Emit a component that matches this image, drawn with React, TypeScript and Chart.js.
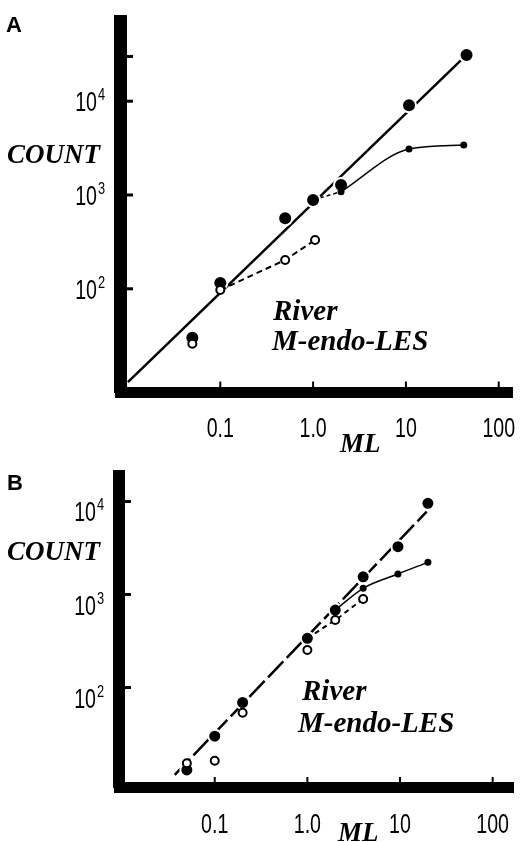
import React, { useEffect, useRef } from "react";
import { Chart, registerables } from "chart.js";

Chart.register(...registerables);

// ---------------- Shared axis ticks ----------------
const X_TICKS = [0.1, 1, 10, 100];
const X_TICK_LABELS = ["0.1", "1.0", "10", "100"];

// ---------------- Panel A data ----------------
const A_LARGE_ML = [0.05, 0.1, 0.5, 1, 2, 10.8, 45];
const A_LARGE_COUNT = [30, 115, 565, 885, 1280, 9040, 31100];
const A_OPEN_ML = [0.05, 0.1, 0.5, 1.05];
const A_OPEN_COUNT = [26, 97, 203, 331];
const A_SMALL_ML = [2, 10.8, 42];
const A_SMALL_COUNT = [1085, 3090, 3410];
const A_DASH_ML = [1, 2];
const A_DASH_COUNT = [885, 1085];
const A_FIT_ML = [0.0101, 45];
const A_FIT_COUNT = [10.1, 31100];
const A_Y_TICKS = [100, 1000, 10000, 30000];
const A_Y_EXP = ["2", "3", "4", ""];

// ---------------- Panel B data ----------------
const B_LARGE_ML = [0.05, 0.1, 0.2, 1, 2, 4, 9.5, 20];
const B_LARGE_COUNT = [13, 30, 69, 338, 681, 1550, 3270, 9570];
const B_OPEN_ML = [0.05, 0.1, 0.2, 1, 2, 4];
const B_OPEN_COUNT = [15.3, 16.3, 53.6, 253, 532, 895];
const B_SMALL_ML = [2, 4, 9.5, 20];
const B_SMALL_COUNT = [681, 1166, 1661, 2218];
const B_DASH_ML = [1, 2, 4];
const B_DASH_COUNT = [338, 532, 895];
const B_FIT_ML = [0.037, 19.4];
const B_FIT_COUNT = [11.5, 7770];
const B_Y_TICKS = [100, 1000, 10000];
const B_Y_EXP = ["2", "3", "4"];

const pts = (xs: number[], ys: number[]) => xs.map((x, i) => ({ x, y: ys[i] }));

const SERIF_BI = 'italic bold 27px "Liberation Serif", "DejaVu Serif", serif';
const SERIF_BI_L = 'italic bold 29px "Liberation Serif", "DejaVu Serif", serif';
const LETTER = 'bold 22px "Liberation Sans", Arial, sans-serif';
const DIGITS = '28px "Liberation Sans", Arial, sans-serif';
const SUP = '16px "Liberation Sans", Arial, sans-serif';

type Txt = { text: string; x: number; y: number; font: string; align?: CanvasTextAlign };

interface PanelCfg {
  height: number;
  padding: { left: number; right: number; top: number; bottom: number };
  xMin: number;
  xMax: number;
  yMin: number;
  yMax: number;
  xBorder: number;
  yBorder: number;
  yTicks: number[];
  yExp: string[];
  yLabelDy: number;
  datasets: any[];
  texts: Txt[];
}

function condensed(ctx: CanvasRenderingContext2D, text: string, x: number, y: number, sx: number, align: CanvasTextAlign) {
  ctx.save();
  ctx.translate(x, y);
  ctx.scale(sx, 1);
  ctx.textAlign = align;
  ctx.fillText(text, 0, 0);
  ctx.restore();
}

const decor = (cfg: PanelCfg) => ({
  id: "decor",
  afterDraw(chart: any) {
    const { ctx, chartArea } = chart;
    const xs = chart.scales.x;
    const ys = chart.scales.y;
    ctx.save();
    ctx.fillStyle = "#000";
    ctx.strokeStyle = "#000";
    ctx.textBaseline = "alphabetic";
    // inward tick marks on x axis
    const xEdge = chartArea.bottom - cfg.xBorder / 2;
    ctx.lineWidth = 2;
    X_TICKS.forEach((v) => {
      const px = xs.getPixelForValue(v);
      ctx.beginPath();
      ctx.moveTo(px, xEdge + 1);
      ctx.lineTo(px, xEdge - 5);
      ctx.stroke();
    });
    // inward tick marks on y axis
    const yEdge = chartArea.left + cfg.yBorder / 2;
    ctx.lineWidth = 3;
    cfg.yTicks.forEach((v) => {
      const py = ys.getPixelForValue(v);
      ctx.beginPath();
      ctx.moveTo(yEdge - 1, py);
      ctx.lineTo(yEdge + 6, py);
      ctx.stroke();
    });
    // x tick labels
    ctx.font = DIGITS;
    X_TICKS.forEach((v, i) => {
      condensed(ctx, X_TICK_LABELS[i], xs.getPixelForValue(v), chartArea.bottom + 45, 0.7, "center");
    });
    // y tick labels 10^n
    const right = chartArea.left - cfg.yBorder / 2 - 17;
    cfg.yTicks.forEach((v, i) => {
      const e = cfg.yExp[i];
      if (!e) return;
      const py = ys.getPixelForValue(v) + cfg.yLabelDy;
      ctx.font = DIGITS;
      condensed(ctx, "10", right, py, 0.7, "right");
      ctx.font = SUP;
      condensed(ctx, e, right + 1, py - 11, 0.8, "left");
    });
    // other texts
    cfg.texts.forEach((t) => {
      ctx.font = t.font;
      ctx.textAlign = t.align || "left";
      ctx.fillText(t.text, t.x, t.y);
    });
    ctx.restore();
  },
});

function Panel({ cfg }: { cfg: PanelCfg }) {
  const ref = useRef<HTMLCanvasElement>(null);
  useEffect(() => {
    const canvas = ref.current as HTMLCanvasElement;
    const chart = new Chart(canvas, {
      type: "scatter",
      data: { datasets: cfg.datasets },
      options: {
        responsive: false,
        animation: false,
        devicePixelRatio: 1,
        events: [],
        layout: { padding: cfg.padding },
        plugins: { legend: { display: false }, tooltip: { enabled: false } },
        scales: {
          x: {
            type: "logarithmic",
            position: "bottom",
            min: cfg.xMin,
            max: cfg.xMax,
            grid: { display: false, drawTicks: false },
            ticks: { display: false },
            border: { display: true, color: "#000", width: cfg.xBorder },
          },
          y: {
            type: "logarithmic",
            position: "left",
            min: cfg.yMin,
            max: cfg.yMax,
            grid: { display: false, drawTicks: false },
            ticks: { display: false },
            border: { display: true, color: "#000", width: cfg.yBorder },
          },
        },
      } as any,
      plugins: [decor(cfg) as any],
    });
    return () => chart.destroy();
  }, []);
  return (
    <canvas
      ref={ref}
      width={522}
      height={cfg.height}
      style={{ display: "block", width: 522, height: cfg.height }}
    />
  );
}

const hide0 = (c: any) => (c.p0DataIndex === 0 ? "rgba(0,0,0,0)" : undefined);

const A_CFG: PanelCfg = {
  height: 460,
  padding: { left: 120.5, right: 10, top: 21, bottom: 68 },
  xMin: 0.00841,
  xMax: 139,
  yMin: 7.94,
  yMax: 71600,
  xBorder: 11,
  yBorder: 13,
  yTicks: A_Y_TICKS,
  yExp: A_Y_EXP,
  yLabelDy: 10,
  datasets: [
    {
      data: pts(A_OPEN_ML, A_OPEN_COUNT),
      showLine: true,
      borderColor: "#000",
      borderWidth: 2,
      borderDash: [6, 4],
      segment: { borderColor: hide0 },
      pointRadius: 4,
      pointBackgroundColor: "#fff",
      pointBorderColor: "#000",
      pointBorderWidth: 2,
      order: 1,
    },
    {
      data: pts(A_SMALL_ML, A_SMALL_COUNT),
      showLine: true,
      borderColor: "#000",
      borderWidth: 1.4,
      cubicInterpolationMode: "monotone",
      pointRadius: 3.5,
      pointBackgroundColor: "#000",
      pointBorderWidth: 0,
      order: 2,
    },
    {
      data: pts(A_LARGE_ML, A_LARGE_COUNT),
      showLine: false,
      pointRadius: 7,
      pointBackgroundColor: "#000",
      pointBorderColor: "#fff",
      pointBorderWidth: 2,
      order: 3,
    },
    {
      data: pts(A_DASH_ML, A_DASH_COUNT),
      showLine: true,
      borderColor: "#000",
      borderWidth: 1.6,
      borderDash: [4, 3],
      pointRadius: 0,
      order: 4,
    },
    {
      data: pts(A_FIT_ML, A_FIT_COUNT),
      showLine: true,
      borderColor: "#000",
      borderWidth: 2.5,
      pointRadius: 0,
      order: 5,
    },
  ],
  texts: [
    { text: "A", x: 6, y: 32, font: LETTER },
    { text: "COUNT", x: 100, y: 163, font: SERIF_BI, align: "right" },
    { text: "ML", x: 340, y: 452, font: SERIF_BI },
    { text: "River", x: 273, y: 320, font: SERIF_BI_L },
    { text: "M-endo-LES", x: 272, y: 350, font: SERIF_BI_L },
  ],
};

const B_CFG: PanelCfg = {
  height: 382,
  padding: { left: 119, right: 0, top: 16, bottom: 54.5 },
  xMin: 0.00926,
  xMax: 167.9,
  yMin: 8.41,
  yMax: 18800,
  xBorder: 11,
  yBorder: 12,
  yTicks: B_Y_TICKS,
  yExp: B_Y_EXP,
  yLabelDy: 20,
  datasets: [
    {
      data: pts(B_OPEN_ML, B_OPEN_COUNT),
      showLine: false,
      pointRadius: 4,
      pointBackgroundColor: "#fff",
      pointBorderColor: "#000",
      pointBorderWidth: 2,
      order: 1,
    },
    {
      data: pts(B_SMALL_ML, B_SMALL_COUNT),
      showLine: true,
      borderColor: "#000",
      borderWidth: 1.4,
      cubicInterpolationMode: "monotone",
      pointRadius: [0, 3.5, 3.5, 3.5],
      pointBackgroundColor: "#000",
      pointBorderWidth: 0,
      order: 2,
    },
    {
      data: pts(B_LARGE_ML, B_LARGE_COUNT),
      showLine: false,
      pointRadius: 6.5,
      pointBackgroundColor: "#000",
      pointBorderColor: "#fff",
      pointBorderWidth: 2,
      order: 3,
    },
    {
      data: pts(B_DASH_ML, B_DASH_COUNT),
      showLine: true,
      borderColor: "#000",
      borderWidth: 2,
      borderDash: [5, 4],
      pointRadius: 0,
      order: 4,
    },
    {
      data: pts(B_FIT_ML, B_FIT_COUNT),
      showLine: true,
      borderColor: "#000",
      borderWidth: 2.5,
      borderDash: [22, 5],
      pointRadius: 0,
      order: 5,
    },
  ],
  texts: [
    { text: "B", x: 7, y: 30, font: LETTER },
    { text: "COUNT", x: 100, y: 100, font: SERIF_BI, align: "right" },
    { text: "ML", x: 338, y: 381, font: SERIF_BI },
    { text: "River", x: 302, y: 240, font: SERIF_BI_L },
    { text: "M-endo-LES", x: 298, y: 272, font: SERIF_BI_L },
  ],
};

export default function App() {
  return (
    <div style={{ position: "absolute", left: 0, top: 0, width: 522, height: 842, background: "#fff" }}>
      <Panel cfg={A_CFG} />
      <Panel cfg={B_CFG} />
    </div>
  );
}
